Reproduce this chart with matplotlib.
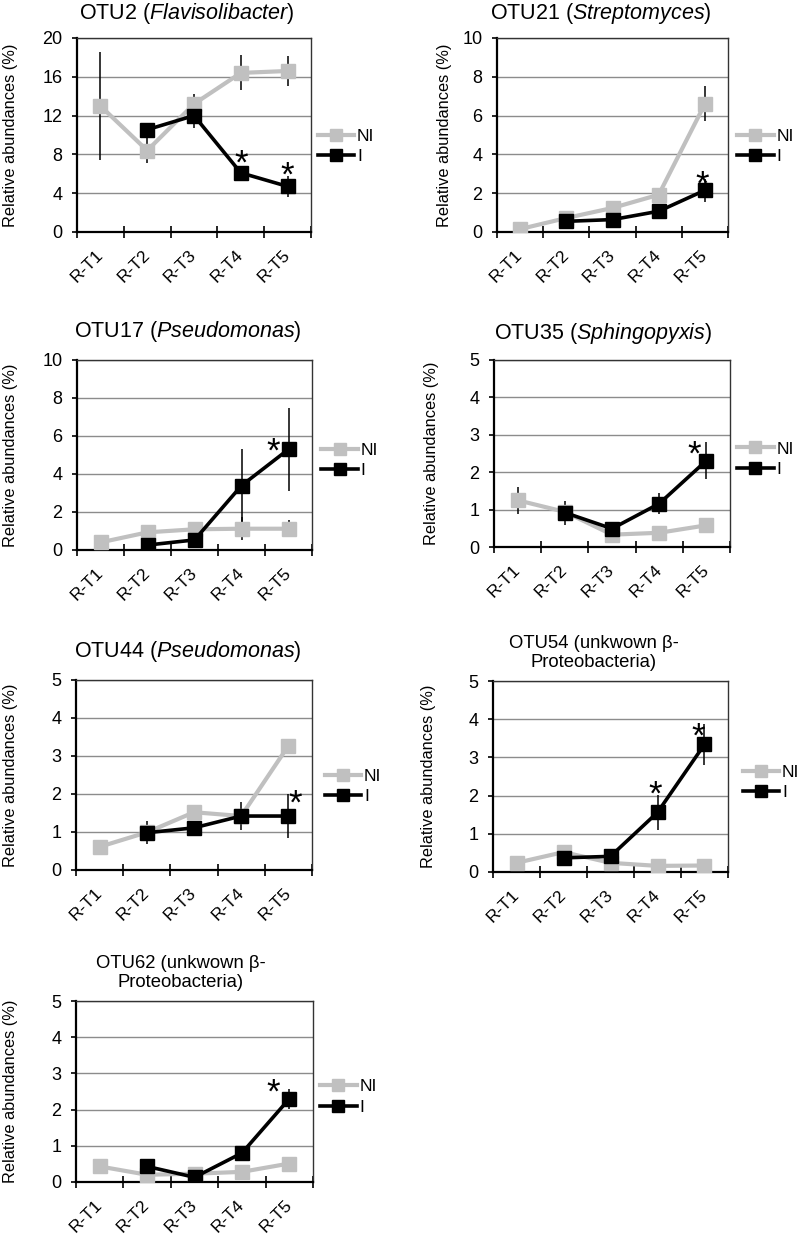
import matplotlib.pyplot as plt
import numpy as np

plt.rcParams['font.family'] = ['Liberation Sans', 'DejaVu Sans']
plt.rcParams['mathtext.fontset'] = 'custom'
plt.rcParams['mathtext.rm'] = 'Liberation Sans'
plt.rcParams['mathtext.it'] = 'Liberation Sans:italic'

nan = np.nan
categories = ['R-T1', 'R-T2', 'R-T3', 'R-T4', 'R-T5']

# OTU2 (Flavisolibacter)
otu2_ni = [13.0, 8.4, 13.2, 16.4, 16.6]
otu2_ni_err = [5.6, 1.3, 1.0, 1.8, 1.5]
otu2_i = [nan, 10.55, 12.0, 6.1, 4.7]
otu2_i_err = [nan, 0.3, 1.3, 0.6, 1.1]
otu2_stars = [(3, 7.5, 0.0), (4, 6.25, 0.0)]

# OTU21 (Streptomyces)
otu21_ni = [0.15, 0.72, 1.24, 1.92, 6.6]
otu21_ni_err = [0.05, 0.1, 0.15, 0.2, 0.9]
otu21_i = [nan, 0.55, 0.64, 1.07, 2.15]
otu21_i_err = [nan, 0.1, 0.1, 0.15, 0.6]
otu21_stars = [(4, 2.7, -0.05)]

# OTU17 (Pseudomonas)
otu17_ni = [0.4, 0.93, 1.09, 1.12, 1.12]
otu17_ni_err = [0.05, 0.1, 0.1, 0.6, 0.45]
otu17_i = [nan, 0.26, 0.53, 3.39, 5.3]
otu17_i_err = [nan, 0.05, 0.05, 1.9, 2.2]
otu17_stars = [(4, 5.44, -0.33)]

# OTU35 (Sphingopyxis)
otu35_ni = [1.25, 0.94, 0.33, 0.38, 0.58]
otu35_ni_err = [0.36, 0.1, 0.05, 0.05, 0.05]
otu35_i = [nan, 0.92, 0.49, 1.16, 2.31]
otu35_i_err = [nan, 0.32, 0.05, 0.29, 0.49]
otu35_stars = [(4, 2.59, -0.25)]

# OTU44 (Pseudomonas)
otu44_ni = [0.61, 0.99, 1.52, 1.42, 3.27]
otu44_ni_err = [0.05, 0.05, 0.05, 0.05, 0.15]
otu44_i = [nan, 0.98, 1.11, 1.42, 1.42]
otu44_i_err = [nan, 0.3, 0.05, 0.38, 0.57]
otu44_stars = [(4, 1.87, 0.14)]

# OTU54 (unknown beta-Proteobacteria)
otu54_ni = [0.24, 0.52, 0.24, 0.16, 0.17]
otu54_ni_err = [0.03, 0.18, 0.03, 0.03, 0.03]
otu54_i = [nan, 0.37, 0.41, 1.56, 3.34]
otu54_i_err = [nan, 0.05, 0.05, 0.45, 0.53]
otu54_stars = [(3, 2.14, -0.05), (4, 3.67, -0.13)]

# OTU62 (unknown beta-Proteobacteria)
otu62_ni = [0.43, 0.2, 0.23, 0.28, 0.51]
otu62_ni_err = [0.03, 0.03, 0.03, 0.03, 0.03]
otu62_i = [nan, 0.43, 0.13, 0.8, 2.3]
otu62_i_err = [nan, 0.03, 0.03, 0.05, 0.28]
otu62_stars = [(4, 2.59, -0.33)]

W, H = 800, 1234

# title text/position (px), y range, axes box in px (left, top, right, bottom),
# legend anchor and y label position in axes fractions
panels = [
    dict(title='OTU2 ($\\it{Flavisolibacter}$)', tx=187, ty=14, ts=15.5,
         ymax=20, ystep=4, box=(77, 38, 311, 232), leg=(1.03, 0.44), ylx=-0.25,
         ni=otu2_ni, ni_err=otu2_ni_err, i=otu2_i, i_err=otu2_i_err, stars=otu2_stars),
    dict(title='OTU21 ($\\it{Streptomyces}$)', tx=601, ty=14, ts=15.5,
         ymax=10, ystep=2, box=(497, 38, 728, 232), leg=(1.04, 0.44), ylx=-0.195,
         ni=otu21_ni, ni_err=otu21_ni_err, i=otu21_i, i_err=otu21_i_err, stars=otu21_stars),
    dict(title='OTU17 ($\\it{Pseudomonas}$)', tx=188, ty=331, ts=15.5,
         ymax=10, ystep=2, box=(77, 360, 312, 550), leg=(1.04, 0.47), ylx=-0.25,
         ni=otu17_ni, ni_err=otu17_ni_err, i=otu17_i, i_err=otu17_i_err, stars=otu17_stars),
    dict(title='OTU35 ($\\it{Sphingopyxis}$)', tx=603, ty=334, ts=15.5,
         ymax=5, ystep=1, box=(494, 360, 730, 547), leg=(1.03, 0.47), ylx=-0.233,
         ni=otu35_ni, ni_err=otu35_ni_err, i=otu35_i, i_err=otu35_i_err, stars=otu35_stars),
    dict(title='OTU44 ($\\it{Pseudomonas}$)', tx=188, ty=651, ts=15.5,
         ymax=5, ystep=1, box=(76, 680, 312, 870), leg=(1.055, 0.44), ylx=-0.245,
         ni=otu44_ni, ni_err=otu44_ni_err, i=otu44_i, i_err=otu44_i_err, stars=otu44_stars),
    dict(title='OTU54 (unkwown β-\nProteobacteria)', tx=594, ty=653, ts=13.3,
         ymax=5, ystep=1, box=(493, 681, 728, 872), leg=(1.064, 0.47), ylx=-0.243,
         ni=otu54_ni, ni_err=otu54_ni_err, i=otu54_i, i_err=otu54_i_err, stars=otu54_stars),
    dict(title='OTU62 (unkwown β-\nProteobacteria)', tx=181, ty=973, ts=13.3,
         ymax=5, ystep=1, box=(76, 1001, 313, 1182), leg=(1.03, 0.47), ylx=-0.245,
         ni=otu62_ni, ni_err=otu62_ni_err, i=otu62_i, i_err=otu62_i_err, stars=otu62_stars),
]

fig = plt.figure(figsize=(W / 100, H / 100), dpi=100)
x = np.arange(len(categories))

for p in panels:
    l, t, r, b = p['box']
    ax = fig.add_axes([l / W, 1 - b / H, (r - l) / W, (b - t) / H])

    ax.errorbar(x, p['ni'], yerr=p['ni_err'], fmt='none', ecolor='black',
                elinewidth=1.1, capsize=0, zorder=2)
    ax.errorbar(x, p['i'], yerr=p['i_err'], fmt='none', ecolor='black',
                elinewidth=1.1, capsize=0, zorder=2)
    ax.plot(x, p['ni'], color='#c0c0c0', lw=3, marker='s', markersize=9.5,
            label='NI', zorder=3)
    ax.plot(x, p['i'], color='black', lw=2.6, marker='s', markersize=9.5,
            label='I', zorder=4)

    # significance asterisks
    for k, yv, dx in p['stars']:
        ax.annotate('*', (x[k] + dx, yv), xytext=(0, -10.5), textcoords='offset points',
                    ha='center', va='baseline', fontsize=25, zorder=5)

    ax.set_xlim(-0.5, 4.5)
    ax.set_ylim(0, p['ymax'])
    ax.set_yticks(np.arange(0, p['ymax'] + p['ystep'] / 2, p['ystep']))
    ax.yaxis.grid(True, color='#8c8c8c', lw=1)
    ax.set_axisbelow(True)

    ax.set_xticks(x)
    ax.set_xticklabels(categories, rotation=45, ha='right', va='center',
                       rotation_mode='anchor')
    ax.set_xticks(np.arange(-0.5, 5, 1), minor=True)
    ax.tick_params(axis='x', which='major', length=0, pad=15, labelsize=12.5)
    ax.tick_params(axis='x', which='minor', direction='inout', length=8, width=1.2)
    ax.tick_params(axis='y', direction='out', length=3.5, width=1.2, pad=7,
                   labelsize=13)

    for side in ['left', 'bottom']:
        ax.spines[side].set_linewidth(1.6)
    for side in ['top', 'right']:
        ax.spines[side].set_linewidth(1.0)
        ax.spines[side].set_color('#333333')

    ax.set_ylabel('Relative abundances (%)', fontsize=11.8)
    ax.yaxis.set_label_coords(p['ylx'], 0.5)

    ax.legend(loc='center left', bbox_to_anchor=p['leg'], frameon=False,
              fontsize=12.5, handlelength=2.1, handletextpad=0.15,
              labelspacing=0.3, borderpad=0, borderaxespad=0, markerscale=0.9)

    fig.text(p['tx'] / W, 1 - p['ty'] / H, p['title'], ha='center', va='center',
             fontsize=p['ts'], linespacing=1.15)

fig.savefig('out.png', dpi=100)
